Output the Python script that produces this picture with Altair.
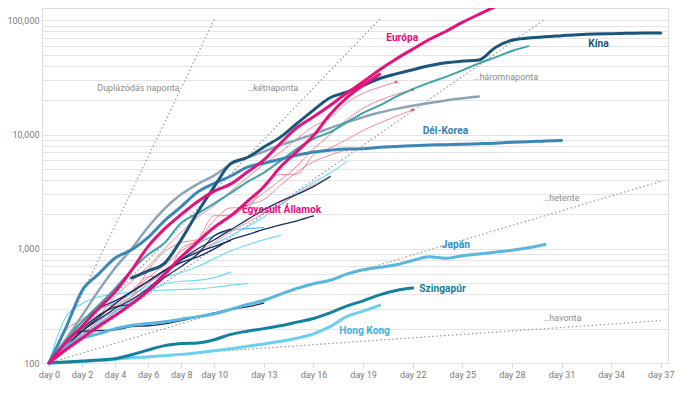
import altair as alt
import pandas as pd

# ---------------- data ----------------
X_TICKS = [0, 2, 4, 6, 8, 10, 13, 16, 19, 22, 25, 28, 31, 34, 37]
Y_GRID = [100, 200, 300, 400, 500, 600, 700, 800, 900,
          1000, 2000, 3000, 4000, 5000, 6000, 7000, 8000, 9000,
          10000, 20000, 30000, 40000, 50000, 60000, 70000, 80000, 90000,
          100000]

EUROPA_DAYS = list(range(0, 29))
EUROPA = [100, 150, 210, 300, 420, 650, 1050, 1500, 2000, 2600,
          3200, 3700, 4700, 6000, 8400, 11500, 14300, 18000, 23000, 29000,
          37000, 46000, 56000, 68000, 80000, 96000, 113000, 132000, 152000]

USA_DAYS = list(range(0, 21))
USA = [100, 130, 165, 210, 260, 330, 430, 600, 850, 1150, 1550, 1950, 2600,
       3500, 5200, 7100, 9800, 15000, 21000, 27000, 33800]

CHINA_DAYS = list(range(5, 38))
CHINA = [555, 640, 750, 1200, 2100, 3500, 5600, 6300, 7800, 9500,
         12500, 16400, 21000, 23500, 27000, 31000, 34000, 37000, 40000, 42500,
         44000, 45000, 58000, 67000, 70000, 72000, 73500, 75000, 76000, 76500,
         77000, 77500, 77500]

KOREA_DAYS = list(range(0, 32))
KOREA = [100, 200, 430, 600, 830, 980, 1260, 1770, 2340, 3150,
         3740, 4340, 5190, 5620, 6090, 6590, 7040, 7310, 7480, 7510,
         7760, 7870, 7980, 8090, 8160, 8240, 8320, 8410, 8570, 8650, 8800, 8900]

JAPAN_DAYS = list(range(0, 31))
JAPAN = [100, 140, 165, 180, 200, 213, 222, 230, 242, 254,
         270, 295, 325, 353, 400, 450, 495, 530, 600, 655,
         690, 725, 790, 850, 825, 870, 900, 935, 970, 1020, 1090]

SINGAPORE_DAYS = list(range(0, 23))
SINGAPORE = [100, 102, 104, 106, 109, 118, 130, 142, 148, 150, 160, 178,
             190, 200, 212, 228, 245, 275, 315, 350, 395, 432, 453]

HONGKONG_DAYS = list(range(0, 21))
HONGKONG = [100, 101, 103, 105, 108, 111, 113, 116, 119, 123, 128, 133,
            140, 147, 155, 165, 180, 208, 255, 285, 320]

GRAY_DAYS = list(range(0, 27))
GRAY = [100, 160, 260, 430, 680, 1000, 1550, 2250, 3000, 3700,
        4400, 5500, 6300, 7100, 8100, 9000, 10100, 11400, 12800, 14200,
        15600, 16800, 17900, 18900, 19900, 20800, 21600]

TEAL_DAYS = list(range(0, 30))
TEAL = [100, 155, 230, 320, 450, 650, 890, 1130, 1690, 2040,
        2500, 3090, 3860, 4640, 5880, 7500, 9200, 10500, 12800, 15500,
        18000, 21500, 25000, 28500, 32000, 36500, 42000, 47500, 54000, 59500]

PINK1 = [100, 150, 190, 260, 380, 520, 700, 1000, 1400, 1900, 2400, 3200,
         4200, 5500, 7000, 9200, 11800, 14000, 19000, 23000, 26000, 28900]
PINK2 = [100, 140, 180, 230, 300, 420, 560, 720, 950, 1200, 1500, 1900,
         2400, 3100, 4000, 5300, 7500, 10000, 13500, 17000, 20000, 22500, 24800]
PINK3 = [100, 130, 190, 200, 285, 380, 650, 950, 1130, 1210, 1780, 2280,
         2290, 3660, 4470, 4500, 6630, 7650, 9040, 10870, 12610, 14460, 16500]
PINK4 = [100, 190, 240, 300, 330, 430, 570, 580, 1000, 1200, 1950, 1950,
         2400, 2700, 3600, 4700, 5800, 6600, 7400]
PINK5 = [100, 130, 190, 265, 320, 380, 500, 610, 800, 960, 1130, 1410,
         1700, 2050, 2460, 3000, 3630, 4200]

CYAN1 = [100, 140, 180, 230, 300, 380, 500, 620, 750, 900, 1100, 1300,
         1560, 1900, 2400, 3100, 3800, 4600, 5800]
CYAN2 = [100, 160, 230, 290, 340, 400, 470, 560, 620, 700, 820, 960, 1080,
         1200, 1310]
CYAN3 = [100, 250, 330, 380, 400, 420, 430, 435, 440, 445, 460, 480, 495]
CYAN4 = [100, 140, 190, 240, 285, 330, 420, 495, 520, 530, 560, 625]
LIGHTBLUE1 = [100, 135, 175, 220, 280, 350, 450, 600, 800, 1100, 1300, 1450,
              1500, 1530]

NAVY1 = [100, 140, 190, 240, 300, 360, 450, 600, 800, 1000, 1200, 1470,
         1800, 2200, 2600, 3000, 3500, 4300]
NAVY2 = [100, 160, 230, 300, 350, 420, 520, 640, 760, 850, 1000, 1200,
         1330, 1480, 1620, 1760, 1940]
NAVY3 = [100, 150, 190, 192, 195, 208, 212, 220, 235, 255, 275, 295, 310, 335]
NAVY4 = [100, 150, 200, 260, 310, 330, 420, 560, 700, 900, 1300, 1490]
NAVY5 = [100, 140, 190, 250, 330, 420, 520, 650, 800, 930, 1050, 1180]

# doubling reference lines: start (day 0, 100) -> end
REF_NAMES = ["naponta", "kétnaponta", "háromnaponta", "hetente", "havonta"]
REF_END_DAY = [10, 20, 30, 37, 37]
REF_END_VAL = [102400, 102400, 102400, 3900, 235]

REF_TEXT = ["Duplázódás naponta", "…kétnaponta", "…háromnaponta", "…hetente", "…havonta"]
REF_TEXT_DAY = [2.92, 11.99, 25.67, 29.9, 29.9]
REF_TEXT_VAL = [25600, 25600, 32200, 2790, 249]

LABEL_TEXT = ["Európa", "Kína", "Dél-Korea", "Egyesült Államok", "Japán", "Szingapúr", "Hong Kong"]
LABEL_DAY = [20.4, 32.62, 22.6, 11.67, 23.76, 22.4, 17.56]
LABEL_VAL = [69700, 61800, 10780, 2190, 1090, 449, 192]
LABEL_COLOR = ["#e4127b", "#1c557c", "#3483b5", "#e4127b", "#2f93c2", "#15819c", "#3bb5dc"]

# ---------------- helpers ----------------
def frame(name, values, days=None):
    if days is None:
        days = list(range(len(values)))
    return pd.DataFrame({"series": name, "day": days, "value": values})


X_SCALE = alt.Scale(domain=[-0.42, 37.44], nice=False, zero=False)
Y_SCALE = alt.Scale(type="log", domain=[100, 128400], nice=False)

X_AXIS = alt.Axis(values=X_TICKS, labelExpr="'day ' + datum.value", grid=False,
                  domain=False, ticks=True, tickColor="#d2d2d2", tickSize=4,
                  labelColor="#7b7b7b", labelFontSize=9, labelPadding=3,
                  labelFlush=False, title=None)
Y_AXIS = alt.Axis(values=Y_GRID,
                  labelExpr="(datum.value == 100 || datum.value == 1000 || datum.value == 10000 || datum.value == 100000) ? format(datum.value, ',') : ''",
                  grid=True, gridColor="#e4e4e4", gridWidth=1.2, domain=False,
                  ticks=False, labelColor="#7b7b7b", labelFontSize=9,
                  labelPadding=3, labelOverlap=False, labelFlush=False, title=None)


def X():
    return alt.X("day:Q", scale=X_SCALE, axis=X_AXIS)


def Y():
    return alt.Y("value:Q", scale=Y_SCALE, axis=Y_AXIS)


def line(df, color, width, clip=False):
    return alt.Chart(df).mark_line(color=color, strokeWidth=width, interpolate="monotone",
                                   clip=clip, strokeCap="round", strokeJoin="round").encode(
        x=X(), y=Y(), detail="series:N")


ref_rows = []
for n, d, v in zip(REF_NAMES, REF_END_DAY, REF_END_VAL):
    ref_rows.append({"rate": n, "day": 0, "value": 100})
    ref_rows.append({"rate": n, "day": d, "value": v})
ref_df = pd.DataFrame(ref_rows)

pink_df = pd.concat([frame("p1", PINK1), frame("p2", PINK2), frame("p3", PINK3),
                     frame("p4", PINK4), frame("p5", PINK5)])
pink_end = pd.concat([frame(s, [vals[-1]], [len(vals) - 1]) for s, vals in
                      [("p1", PINK1), ("p2", PINK2), ("p3", PINK3), ("p4", PINK4)]])
cyan_df = pd.concat([frame("c1", CYAN1), frame("c2", CYAN2), frame("c3", CYAN3), frame("c4", CYAN4)])
lblue_df = frame("lb1", LIGHTBLUE1)
navy_df = pd.concat([frame("n1", NAVY1), frame("n2", NAVY2), frame("n3", NAVY3),
                     frame("n4", NAVY4), frame("n5", NAVY5)])

layers = [
    alt.Chart(ref_df).mark_line(color="#9a9a9a", strokeWidth=1.2, strokeDash=[1.5, 2.5]).encode(
        x=X(), y=Y(), detail="rate:N"),
    line(cyan_df, "#74dbf3", 1.2),
    line(lblue_df, "#5bbde3", 1.2),
    line(pink_df, "#f2899b", 1),
    alt.Chart(pink_end).mark_circle(size=10, color="#ee5d7a", opacity=1).encode(x=X(), y=Y()),
    line(navy_df, "#1e2e5e", 1.3),
    line(frame("gray", GRAY, GRAY_DAYS), "#8ba5b5", 2.5),
    line(frame("teal", TEAL, TEAL_DAYS), "#3fa3a8", 2),
    line(frame("hk", HONGKONG, HONGKONG_DAYS), "#6ccfee", 3),
    line(frame("sg", SINGAPORE, SINGAPORE_DAYS), "#15819c", 3),
    line(frame("jp", JAPAN, JAPAN_DAYS), "#58b6df", 3),
    line(frame("kr", KOREA, KOREA_DAYS), "#3a87b8", 3),
    line(frame("cn", CHINA, CHINA_DAYS), "#1c557c", 3),
    line(frame("us", USA, USA_DAYS), "#e4127b", 3),
    line(frame("eu", EUROPA, EUROPA_DAYS), "#e4127b", 3, clip=True),
    alt.Chart(pd.DataFrame({"text": REF_TEXT, "day": REF_TEXT_DAY, "value": REF_TEXT_VAL}))
    .mark_text(align="left", baseline="middle", fontSize=9, color="#8c8c8c")
    .encode(x=X(), y=Y(), text="text:N"),
    alt.Chart(pd.DataFrame({"text": LABEL_TEXT, "day": LABEL_DAY, "value": LABEL_VAL,
                            "color": LABEL_COLOR}))
    .mark_text(align="left", baseline="middle", fontSize=10.2, fontWeight="bold")
    .encode(x=X(), y=Y(), text="text:N", color=alt.Color("color:N", scale=None)),
]

chart = alt.layer(*layers).properties(
    width=626, height=355,
    autosize=alt.AutoSizeParams(type="none"),
    padding={"left": 34, "top": 0, "right": 20, "bottom": 26},
).configure_view(stroke=None).configure(font="Roboto")

chart.save("out.html", embed_options={"renderer": "svg", "actions": False})
